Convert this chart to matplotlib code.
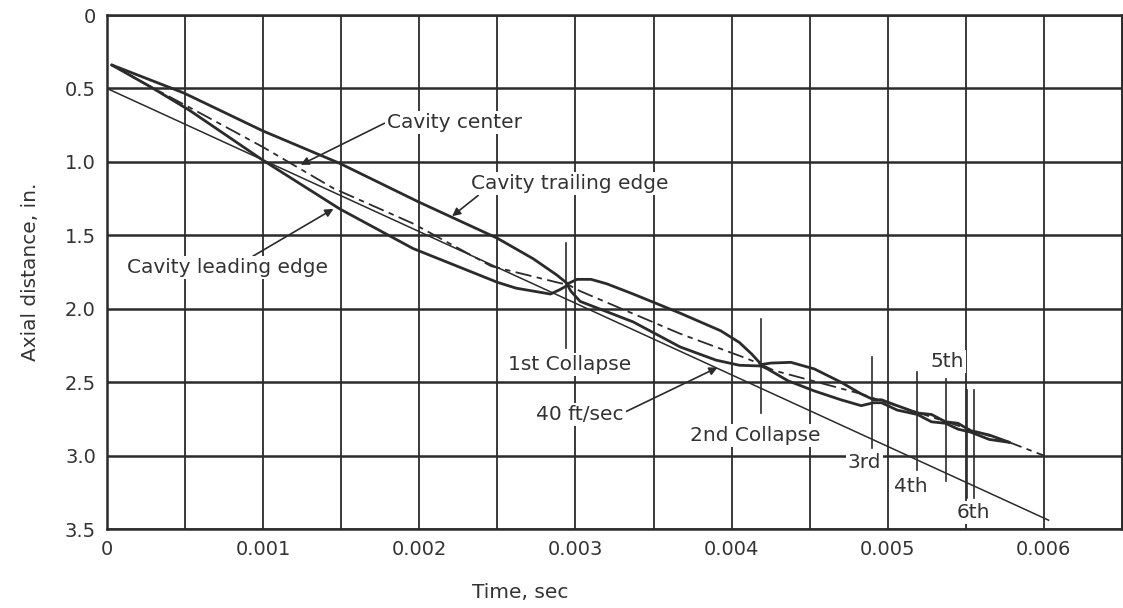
import numpy as np
import matplotlib
matplotlib.use("Agg")
import matplotlib.pyplot as plt
from matplotlib.ticker import MultipleLocator, FixedLocator

# time (sec) / axial distance (in.)
trailing_t = [0.00003, 0.00049, 0.001, 0.00149, 0.00199, 0.0025, 0.00273, 0.00288, 0.00295,
              0.00301, 0.0031, 0.0032, 0.00337, 0.00367, 0.00393, 0.00405, 0.00413, 0.00419,
              0.00425, 0.00438, 0.00453, 0.0047, 0.00483, 0.00491, 0.00496, 0.00506,
              0.00519, 0.00528, 0.00537, 0.00545, 0.00553, 0.00565, 0.00578]
trailing_y = [0.34, 0.53, 0.79, 1.01, 1.27, 1.52, 1.66, 1.77, 1.83,
              1.80, 1.80, 1.83, 1.90, 2.03, 2.15, 2.23, 2.31, 2.38,
              2.37, 2.365, 2.41, 2.50, 2.58, 2.62, 2.62, 2.66,
              2.71, 2.72, 2.77, 2.78, 2.83, 2.86, 2.91]

leading_t = [0.00003, 0.00028, 0.00053, 0.001, 0.00149, 0.00196, 0.0025, 0.00262, 0.00273,
             0.00284, 0.0029, 0.00295, 0.00297, 0.00303, 0.00337, 0.00367, 0.0039, 0.00405,
             0.00419, 0.00423, 0.00436, 0.00453, 0.0047, 0.00483, 0.00491, 0.00496, 0.00506,
             0.00519, 0.00528, 0.00537, 0.00545, 0.00553, 0.00565, 0.00578]
leading_y = [0.34, 0.49, 0.65, 0.99, 1.32, 1.59, 1.82, 1.86, 1.88,
             1.90, 1.87, 1.84, 1.88, 1.95, 2.09, 2.26, 2.35, 2.385,
             2.39, 2.41, 2.49, 2.56, 2.62, 2.66, 2.64, 2.64, 2.69,
             2.72, 2.77, 2.78, 2.82, 2.84, 2.89, 2.91]

center_t = [0.00003, 0.00023, 0.0006, 0.001, 0.00145, 0.00196, 0.00246, 0.00288, 0.00296,
            0.00303, 0.00367, 0.0041, 0.00419, 0.00427, 0.00483, 0.00494, 0.00578, 0.006]
center_y = [0.34, 0.46, 0.67, 0.90, 1.18, 1.42, 1.71, 1.82, 1.84,
            1.88, 2.17, 2.34, 2.38, 2.42, 2.58, 2.62, 2.91, 3.0]

# 40 ft/sec reference line
ref_t = [0.0, 0.00603]
ref_y = [0.5, 3.44]

# collapse markers: time, top, bottom
collapse_t = [0.00294, 0.00419, 0.0049, 0.00519, 0.00537, 0.00551, 0.00555]
collapse_top = [1.55, 2.07, 2.33, 2.43, 2.48, 2.55, 2.55]
collapse_bot = [2.27, 2.71, 2.95, 3.10, 3.17, 3.29, 3.29]

x_ticks = [0, 0.001, 0.002, 0.003, 0.004, 0.005, 0.006]
x_labels = ["0", "0.001", "0.002", "0.003", "0.004", "0.005", "0.006"]
y_ticks = [0, 0.5, 1.0, 1.5, 2.0, 2.5, 3.0, 3.5]
y_labels = ["0", "0.5", "1.0", "1.5", "2.0", "2.5", "3.0", "3.5"]

ink = "#2b2b2b"
plt.rcParams["font.family"] = ["DejaVu Sans"]

fig = plt.figure(figsize=(11.23, 6.08), dpi=100)
ax = fig.add_axes([0.0953, 0.1299, 0.9038, 0.8454])

ax.set_xlim(0, 0.0065)
ax.set_ylim(3.5, 0)

ax.xaxis.set_major_locator(FixedLocator(x_ticks))
ax.set_xticklabels(x_labels)
ax.xaxis.set_minor_locator(MultipleLocator(0.0005))
ax.yaxis.set_major_locator(FixedLocator(y_ticks))
ax.set_yticklabels(y_labels)
ax.tick_params(which="both", length=0, labelsize=14, colors="#333333", pad=8)
ax.grid(which="major", axis="y", color=ink, lw=1.8)
ax.grid(which="both", axis="x", color=ink, lw=1.3)
for s in ax.spines.values():
    s.set_color(ink)
    s.set_linewidth(1.8)

ax.plot(ref_t, ref_y, color=ink, lw=1.1, zorder=3)
ax.plot(trailing_t, trailing_y, color=ink, lw=2.0, zorder=4,
        solid_joinstyle="round", solid_capstyle="round")
ax.plot(leading_t, leading_y, color=ink, lw=2.0, zorder=4,
        solid_joinstyle="round", solid_capstyle="round")
c, = ax.plot(center_t, center_y, color=ink, lw=1.3, zorder=4)
c.set_dashes([9, 3, 3, 3])

for t, a, b in zip(collapse_t, collapse_top, collapse_bot):
    ax.plot([t, t], [a, b], color=ink, lw=1.2, zorder=3)

fs = 14.5
box = dict(facecolor="white", edgecolor="none", pad=1.5)
arr = dict(arrowstyle="-|>", color=ink, lw=1.2, mutation_scale=12, shrinkA=0, shrinkB=0)

ax.annotate("Cavity center", xy=(0.00124, 1.02), xytext=(0.00179, 0.73),
            ha="left", va="center", fontsize=fs, color="#333333", bbox=box, zorder=6,
            arrowprops=dict(arr, relpos=(0, 0.5)))
ax.annotate("Cavity trailing edge", xy=(0.00221, 1.37), xytext=(0.00233, 1.15),
            ha="left", va="center", fontsize=fs, color="#333333", bbox=box, zorder=6,
            arrowprops=dict(arr, relpos=(0.05, 0.0)))
ax.annotate("Cavity leading edge", xy=(0.00145, 1.32), xytext=(0.000128, 1.72),
            ha="left", va="center", fontsize=fs, color="#333333", bbox=box, zorder=6,
            arrowprops=dict(arr, relpos=(0.61, 1.0)))
ax.annotate("40 ft/sec", xy=(0.00391, 2.40), xytext=(0.00303, 2.72),
            ha="center", va="center", fontsize=fs, color="#333333", bbox=box, zorder=6,
            arrowprops=dict(arr, relpos=(1.0, 0.6)))

ax.text(0.00296, 2.38, "1st Collapse", ha="center", va="center", fontsize=fs,
        color="#333333", bbox=box, zorder=6)
ax.text(0.00415, 2.86, "2nd Collapse", ha="center", va="center", fontsize=fs,
        color="#333333", bbox=box, zorder=6)
ax.text(0.00485, 3.05, "3rd", ha="center", va="center", fontsize=fs, color="#333333",
        bbox=box, zorder=6)
ax.text(0.00515, 3.21, "4th", ha="center", va="center", fontsize=fs, color="#333333",
        bbox=box, zorder=6)
ax.text(0.00538, 2.36, "5th", ha="center", va="center", fontsize=fs, color="#333333",
        bbox=box, zorder=6)
ax.text(0.00555, 3.39, "6th", ha="center", va="center", fontsize=fs, color="#333333",
        bbox=box, zorder=6)

ax.set_ylabel("Axial distance, in.", fontsize=14.5, color="#333333")
ax.yaxis.set_label_coords(-0.066, 0.5)
ax.set_xlabel("Time, sec", fontsize=14.5, color="#333333")
ax.xaxis.set_label_coords(0.407, -0.105)

fig.savefig("out.png", dpi=100)
